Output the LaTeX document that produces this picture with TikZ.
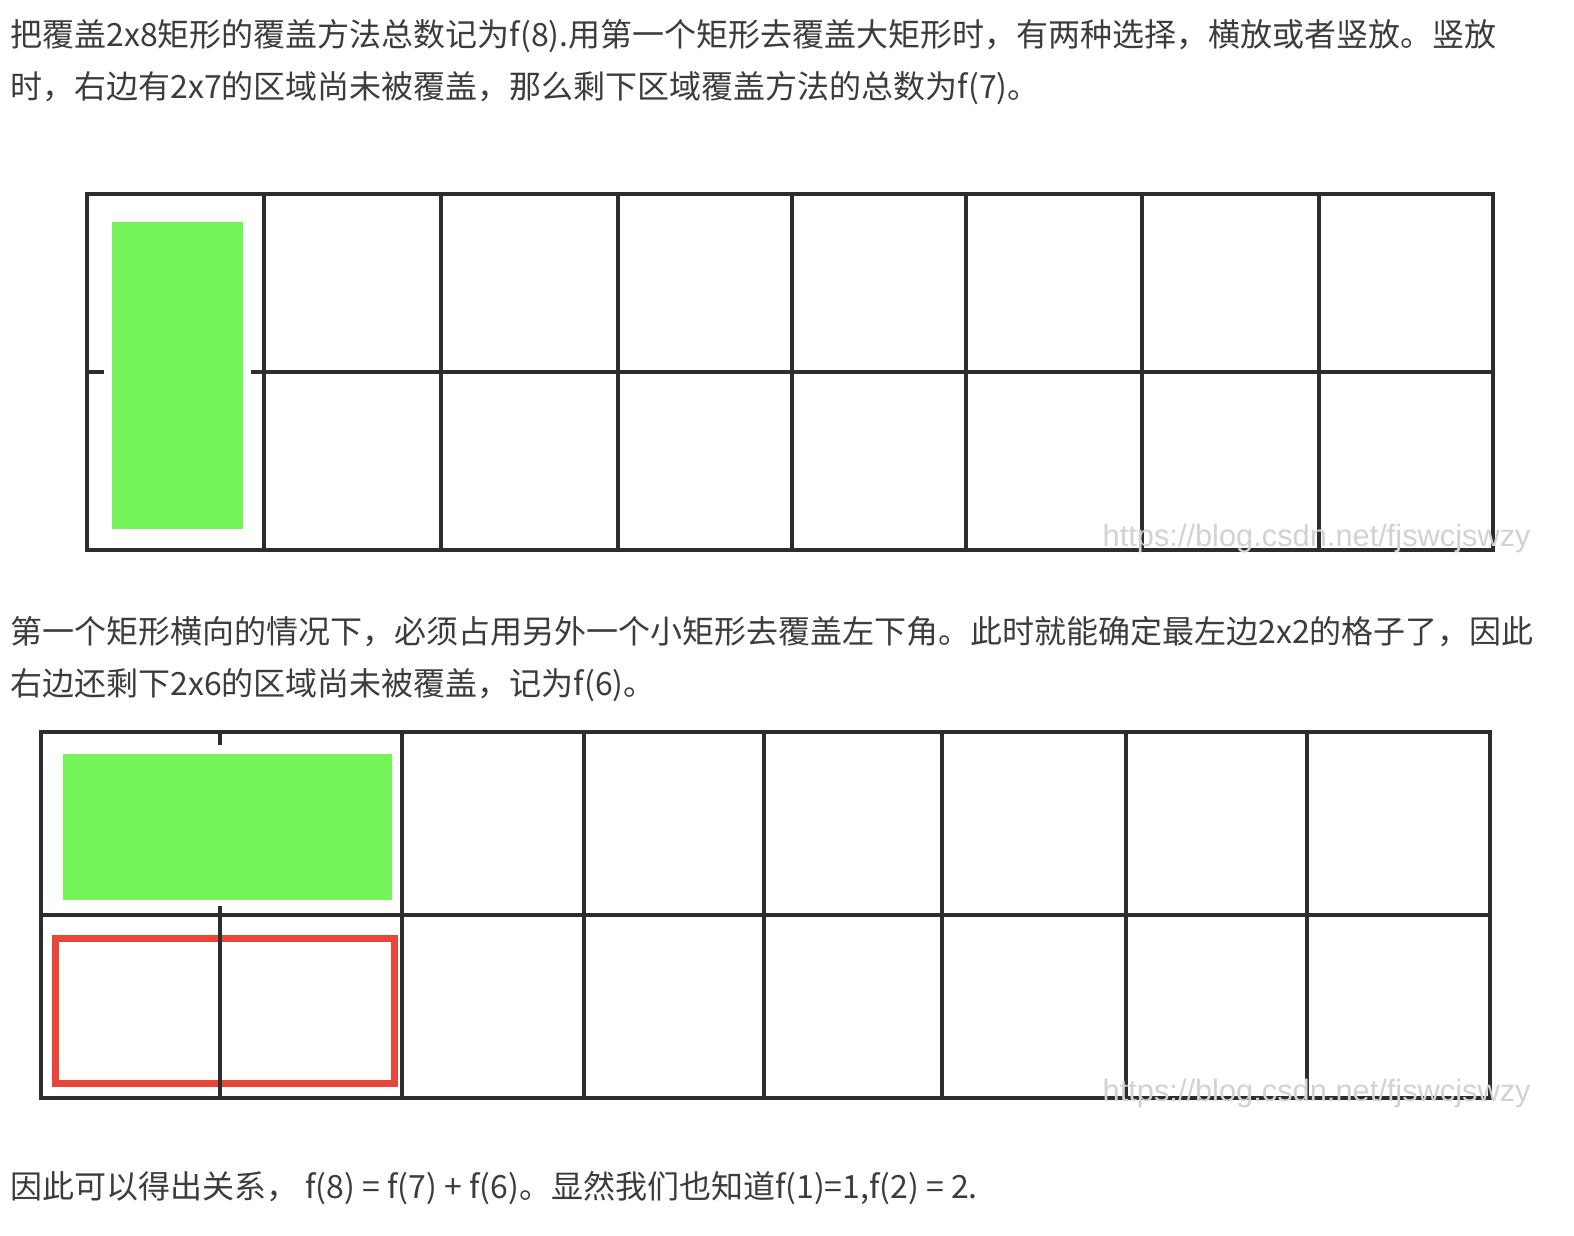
\documentclass[tikz,border=0pt]{standalone}
\usepackage{fontspec}
\setmainfont{Noto Sans CJK SC}
\newfontfamily\wmfont{Liberation Sans}
\definecolor{txt}{RGB}{60,60,60}
\definecolor{gridc}{RGB}{45,45,45}
\definecolor{tilegreen}{RGB}{116,244,88}
\definecolor{tilered}{RGB}{232,70,56}
\definecolor{wmc}{RGB}{210,210,210}
\begin{document}
\begin{tikzpicture}[x=0.5pt,y=-0.5pt,
  para/.style={anchor=west,inner sep=0pt,font=\fontsize{16}{19}\selectfont,text=txt},
  wm/.style={anchor=east,inner sep=0pt,font=\wmfont\fontsize{15.4}{17}\selectfont,text=wmc},
  gridline/.style={draw=gridc,line width=1.7pt},
  greentile/.style={fill=tilegreen},
  redtile/.style={draw=tilered,line width=3.5pt}]
\useasboundingbox (0,0) rectangle (1574,1236);
% text
\node[para] (t1) at (10,36) {把覆盖2x8矩形的覆盖方法总数记为f(8).用第一个矩形去覆盖大矩形时，有两种选择，横放或者竖放。竖放};
\node[para] (t2) at (10,88) {时，右边有2x7的区域尚未被覆盖，那么剩下区域覆盖方法的总数为f(7)。};
\node[para] (t3) at (10,632) {第一个矩形横向的情况下，必须占用另外一个小矩形去覆盖左下角。此时就能确定最左边2x2的格子了，因此};
\node[para] (t4) at (10,685) {右边还剩下2x6的区域尚未被覆盖，记为f(6)。};
\node[para] (t5) at (10,1188) {因此可以得出关系， f(8) = f(7) + f(6)。显然我们也知道f(1)=1,f(2) = 2.};
% grid 1
\fill[greentile] (112,222) rectangle (243,529);
\draw[gridline] (87,194) rectangle (1493,550);
\foreach \x in {264,441,618,792,966,1142,1319} \draw[gridline] (\x,194) -- (\x,550);
\draw[gridline] (264,372) -- (1493,372);
\draw[gridline] (87,372) -- (104,372);
\draw[gridline] (251,372) -- (264,372);
\node[wm] (w1) at (1531,539) {https://blog.csdn.net/fjswcjswzy};
% grid 2
\fill[greentile] (63,754) rectangle (392,900);
\draw[redtile] (55,938) rectangle (394,1083);
\draw[gridline] (41,732) rectangle (1490,1098);
\foreach \x in {402,584,764,942,1126,1307} \draw[gridline] (\x,732) -- (\x,1098);
\draw[gridline] (41,915) -- (1490,915);
\draw[gridline] (220,732) -- (220,745);
\draw[gridline] (220,906) -- (220,1098);
\node[wm] (w2) at (1531,1094) {https://blog.csdn.net/fjswcjswzy};
\end{tikzpicture}
\end{document}
